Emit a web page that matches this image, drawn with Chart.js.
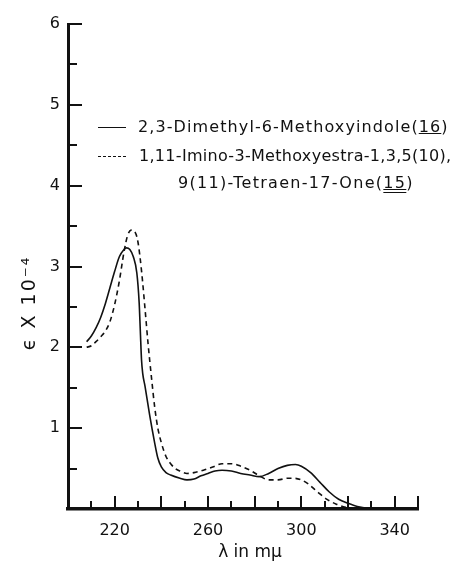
<!DOCTYPE html>
<html>
<head>
<meta charset="utf-8">
<script src="https://cdn.jsdelivr.net/npm/chart.js@4/dist/chart.umd.min.js"></script>
<style>
  html, body { margin: 0; padding: 0; background: #fff; }
  #wrap { position: relative; width: 453px; height: 561px; }
  canvas { display: block; }
  .lg { position: absolute; font-family: 'DejaVu Sans', sans-serif; font-size: 16px; line-height: 18px;
        color: #111; white-space: nowrap; }
  .sw { position: absolute; width: 28px; height: 0; border-top: 1.5px solid #111; }
  .sw.dash { border-top-style: dashed; }
  .u { text-decoration: underline; }
  .uu { text-decoration: underline double; }
</style>
</head>
<body>
<div id="wrap">
  <canvas id="uv" width="453" height="561"></canvas>
  <div class="sw" style="left:98px;top:127px"></div>
  <div class="lg" style="left:138px;top:118px;letter-spacing:1.1px">2,3-Dimethyl-6-Methoxyindole(<span class="u">16</span>)</div>
  <div class="sw dash" style="left:98px;top:156px"></div>
  <div class="lg" style="left:139px;top:147px;letter-spacing:0.3px">1,11-Imino-3-Methoxyestra-1,3,5(10),</div>
  <div class="lg" style="left:178px;top:174px;letter-spacing:1.3px">9(11)-Tetraen-17-One(<span class="uu">15</span>)</div>
</div>
<script>
  // espectros UV: longitud de onda (mμ) y ε x 10^-4
  const WL_16 = [208, 210, 212, 214, 216, 218, 220, 222, 224, 225, 226.5, 228, 229.5, 230.5, 231, 231.5, 232, 233,
    235, 237, 238.5, 240, 242, 244, 248, 251, 254, 257, 260, 263, 266, 270, 274, 278, 282, 286, 290, 294, 297.5,
    300, 304, 308, 312, 316, 320, 324, 328, 332];
  const EPS_16 = [2.07, 2.14, 2.24, 2.37, 2.54, 2.74, 2.94, 3.12, 3.21, 3.23, 3.21, 3.12, 2.92, 2.55, 2.2, 1.85, 1.68, 1.52,
    1.16, 0.84, 0.63, 0.52, 0.45, 0.42, 0.38, 0.36, 0.37, 0.41, 0.44, 0.47, 0.48, 0.47, 0.44, 0.42, 0.40, 0.44, 0.50, 0.54, 0.55,
    0.53, 0.45, 0.33, 0.21, 0.12, 0.07, 0.03, 0.01, 0];

  const WL_15 = [208, 210, 212, 214, 216, 218, 220, 222, 224, 225.5, 227, 229, 230, 231.5, 233, 234.3, 235.8, 237.2,
    238.5, 240, 242, 244, 246, 248, 251, 254, 258, 262, 266, 270, 274, 278, 282, 286, 290, 294, 297, 300, 303, 307,
    311, 315, 319, 322];
  const EPS_15 = [2.00, 2.02, 2.07, 2.13, 2.20, 2.32, 2.53, 2.82, 3.18, 3.38, 3.45, 3.41, 3.30, 2.95, 2.48, 2.05, 1.62, 1.25,
    1.00, 0.82, 0.65, 0.56, 0.50, 0.47, 0.44, 0.45, 0.48, 0.52, 0.56, 0.56, 0.53, 0.48, 0.41, 0.36, 0.36, 0.38, 0.38, 0.36, 0.31, 0.21,
    0.12, 0.06, 0.02, 0];

  const X_TICKS = [210, 220, 230, 240, 250, 260, 270, 280, 290, 300, 310, 320, 330, 340, 350];
  const X_MAJOR = [220, 240, 260, 280, 300, 320, 340, 350];
  const X_LABELS = [220, 260, 300, 340];
  const Y_TICKS = [0.5, 1, 1.5, 2, 2.5, 3, 3.5, 4, 4.5, 5, 5.5, 6];
  const Y_LABELS = [1, 2, 3, 4, 5, 6];
  const X_TITLE = 'λ in mμ';
  const Y_TITLE = 'ϵ X 10⁻⁴';

  const INK = '#111';
  const FONT = "'DejaVu Sans', sans-serif";
  const pts = (xs, ys) => xs.map((x, i) => ({ x, y: ys[i] }));

  // marcas hacia adentro, como en la figura original
  const innerTicks = {
    id: 'innerTicks',
    afterDatasetsDraw(chart) {
      const { ctx, chartArea, scales: { x, y } } = chart;
      ctx.save();
      ctx.strokeStyle = INK;
      ctx.lineWidth = 2;
      ctx.beginPath();
      X_TICKS.forEach((v) => {
        const px = Math.round(x.getPixelForValue(v));
        const len = X_MAJOR.includes(v) ? 13 : 8;
        ctx.moveTo(px, chartArea.bottom);
        ctx.lineTo(px, chartArea.bottom - len);
      });
      Y_TICKS.forEach((v) => {
        const py = Math.round(y.getPixelForValue(v));
        const len = Number.isInteger(v) ? 14 : 9;
        ctx.moveTo(chartArea.left, py);
        ctx.lineTo(chartArea.left + len, py);
      });
      ctx.stroke();
      ctx.restore();
    },
  };

  // títulos de ejes (el del eje y va más abajo que el centro)
  const axisTitles = {
    id: 'axisTitles',
    afterDraw(chart) {
      const { ctx, scales: { x, y } } = chart;
      ctx.save();
      ctx.fillStyle = INK;
      ctx.textAlign = 'center';
      ctx.textBaseline = 'middle';
      ctx.font = '17px ' + FONT;
      ctx.fillText(X_TITLE, x.getPixelForValue(278), 553);
      ctx.translate(30, y.getPixelForValue(2.55));
      ctx.rotate(-Math.PI / 2);
      ctx.font = '19px ' + FONT;
      ctx.letterSpacing = '2px';
      ctx.fillText(Y_TITLE, 0, 0);
      ctx.restore();
    },
  };

  Chart.defaults.font.family = FONT;
  Chart.defaults.color = INK;

  new Chart(document.getElementById('uv').getContext('2d'), {
    type: 'line',
    data: {
      datasets: [
        {
          label: '2,3-Dimethyl-6-Methoxyindole (16)',
          data: pts(WL_16, EPS_16),
          borderColor: INK,
          borderWidth: 1.6,
          pointRadius: 0,
          cubicInterpolationMode: 'monotone',
        },
        {
          label: '1,11-Imino-3-Methoxyestra-1,3,5(10),9(11)-Tetraen-17-One (15)',
          data: pts(WL_15, EPS_15),
          borderColor: INK,
          borderWidth: 1.6,
          borderDash: [5, 4],
          pointRadius: 0,
          cubicInterpolationMode: 'monotone',
        },
      ],
    },
    options: {
      responsive: false,
      animation: false,
      devicePixelRatio: 1,
      layout: { padding: { top: 24, right: 35, left: 0, bottom: 0 } },
      plugins: { legend: { display: false }, tooltip: { enabled: false } },
      scales: {
        x: {
          type: 'linear',
          min: 200,
          max: 350,
          grid: { display: false },
          border: { display: true, color: INK, width: 3.5 },
          ticks: {
            stepSize: 10,
            autoSkip: false,
            maxRotation: 0,
            padding: 4,
            font: { size: 16 },
            callback: (v) => (X_LABELS.includes(v) ? String(v) : ''),
          },
          afterFit: (s) => { s.height = 52; },
        },
        y: {
          min: 0,
          max: 6,
          grid: { display: false },
          border: { display: true, color: INK, width: 3 },
          ticks: {
            stepSize: 0.5,
            autoSkip: false,
            padding: 0,
            font: { size: 16 },
            callback: (v) => (Y_LABELS.includes(v) ? String(v) : ''),
          },
          afterFit: (s) => { s.width = 68; },
        },
      },
    },
    plugins: [innerTicks, axisTitles],
  });
</script>
</body>
</html>
